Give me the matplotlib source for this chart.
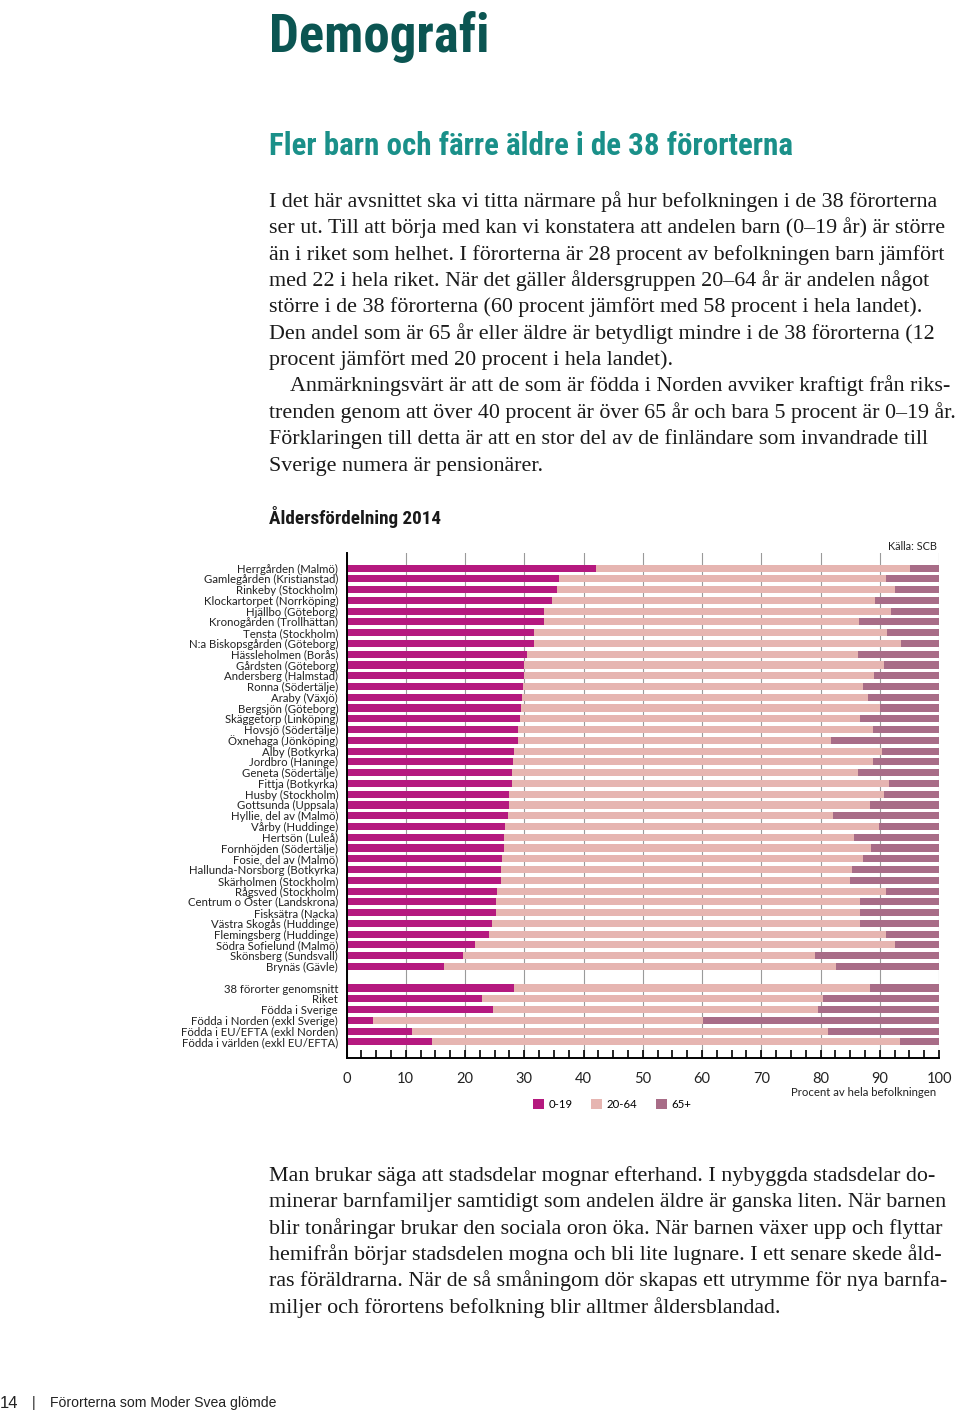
import matplotlib
matplotlib.use('Agg')
import matplotlib.pyplot as plt
from matplotlib import font_manager as fm
from matplotlib.ticker import MultipleLocator

# ---- data ----
places = ['Herrgården (Malmö)', 'Gamlegården (Kristianstad)', 'Rinkeby (Stockholm)',
          'Klockartorpet (Norrköping)', 'Hjällbo (Göteborg)', 'Kronogården (Trollhättan)',
          'Tensta (Stockholm)', 'N:a Biskopsgården (Göteborg)', 'Hässleholmen (Borås)',
          'Gårdsten (Göteborg)', 'Andersberg (Halmstad)', 'Ronna (Södertälje)',
          'Araby (Växjö)', 'Bergsjön (Göteborg)', 'Skäggetorp (Linköping)',
          'Hovsjö (Södertälje)', 'Öxnehaga (Jönköping)', 'Alby (Botkyrka)',
          'Jordbro (Haninge)', 'Geneta (Södertälje)', 'Fittja (Botkyrka)',
          'Husby (Stockholm)', 'Gottsunda (Uppsala)', 'Hyllie, del av (Malmö)',
          'Vårby (Huddinge)', 'Hertsön (Luleå)', 'Fornhöjden (Södertälje)',
          'Fosie, del av (Malmö)', 'Hallunda-Norsborg (Botkyrka)', 'Skärholmen (Stockholm)',
          'Rågsved (Stockholm)', 'Centrum o Öster (Landskrona)', 'Fisksätra (Nacka)',
          'Västra Skogås (Huddinge)', 'Flemingsberg (Huddinge)', 'Södra Sofielund (Malmö)',
          'Skönsberg (Sundsvall)', 'Brynäs (Gävle)']
young = [42.1, 35.8, 35.6, 34.7, 33.4, 33.3, 31.7, 31.7, 30.5, 30.0, 29.9, 29.8,
         29.6, 29.5, 29.3, 28.9, 28.9, 28.2, 28.1, 28.0, 27.9, 27.5, 27.4, 27.2,
         26.7, 26.6, 26.6, 26.2, 26.0, 26.0, 25.4, 25.2, 25.2, 24.5, 24.1, 21.7,
         19.6, 16.5]
mid = [53.0, 55.3, 56.9, 54.5, 58.5, 53.2, 59.5, 61.9, 55.8, 60.7, 59.1, 57.3,
       58.4, 60.5, 57.4, 59.9, 52.8, 62.2, 60.8, 58.3, 63.7, 63.2, 61.0, 54.9,
       63.2, 59.0, 61.9, 60.9, 59.3, 58.9, 65.7, 61.5, 61.5, 62.1, 67.0, 70.8,
       59.4, 66.1]
old = [4.9, 8.9, 7.5, 10.8, 8.1, 13.5, 8.8, 6.4, 13.7, 9.3, 11.0, 12.9,
       12.0, 10.0, 13.3, 11.2, 18.3, 9.6, 11.1, 13.7, 8.4, 9.3, 11.6, 17.9,
       10.1, 14.4, 11.5, 12.9, 14.7, 15.1, 8.9, 13.3, 13.3, 13.4, 8.9, 7.5,
       21.0, 17.4]

groups = ['38 förorter genomsnitt', 'Riket', 'Födda i Sverige',
          'Födda i Norden (exkl Sverige)', 'Födda i EU/EFTA (exkl Norden)',
          'Födda i världen (exkl EU/EFTA)']
g_young = [28.2, 22.8, 24.8, 4.5, 11.1, 14.4]
g_mid = [60.1, 57.7, 54.8, 55.7, 70.1, 79.0]
g_old = [11.7, 19.5, 20.4, 39.8, 18.8, 6.6]

age_labels = ['0-19', '20-64', '65+']
colors = ['#b5197f', '#e6b5b1', '#a86c87']

body1 = [
    "I det här avsnittet ska vi titta närmare på hur befolkningen i de 38 förorterna",
    "ser ut. Till att börja med kan vi konstatera att andelen barn (0–19 år) är större",
    "än i riket som helhet. I förorterna är 28 procent av befolkningen barn jämfört",
    "med 22 i hela riket. När det gäller åldersgruppen 20–64 år är andelen något",
    "större i de 38 förorterna (60 procent jämfört med 58 procent i hela landet).",
    "Den andel som är 65 år eller äldre är betydligt mindre i de 38 förorterna (12",
    "procent jämfört med 20 procent i hela landet).",
    "Anmärkningsvärt är att de som är födda i Norden avviker kraftigt från riks-",
    "trenden genom att över 40 procent är över 65 år och bara 5 procent är 0–19 år.",
    "Förklaringen till detta är att en stor del av de finländare som invandrade till",
    "Sverige numera är pensionärer.",
]
body2 = [
    "Man brukar säga att stadsdelar mognar efterhand. I nybyggda stadsdelar do-",
    "minerar barnfamiljer samtidigt som andelen äldre är ganska liten. När barnen",
    "blir tonåringar brukar den sociala oron öka. När barnen växer upp och flyttar",
    "hemifrån börjar stadsdelen mogna och bli lite lugnare. I ett senare skede åld-",
    "ras föräldrarna. När de så småningom dör skapas ett utrymme för nya barnfa-",
    "miljer och förortens befolkning blir alltmer åldersblandad.",
]


def pick(*names):
    for n in names:
        try:
            fm.findfont(fm.FontProperties(family=n), fallback_to_default=False)
            return n
        except ValueError:
            pass
    return 'DejaVu Sans'


narrow = pick('Liberation Sans Narrow', 'Roboto Condensed', 'DejaVu Sans')
serif = pick('Liberation Serif', 'DejaVu Serif')
sans = pick('Lato', 'Open Sans', 'DejaVu Sans')
arial = pick('Liberation Sans', 'DejaVu Sans')

W, H = 960, 1412
fig = plt.figure(figsize=(W / 100, H / 100), dpi=100)
renderer = fig.canvas.get_renderer()


def px(x, y):
    return x / W, 1 - y / H


def fit(t, width):
    # scale font size so the text is about `width` pixels wide
    w = t.get_window_extent(renderer).width
    t.set_fontsize(t.get_fontsize() * width / w)
    return t


# ---- headers ----
t = fig.text(*px(269, 52), 'Demografi', family=narrow, weight='bold', fontstretch='condensed',
             fontsize=40, color='#0b5552', va='baseline')
fit(t, 220)
t = fig.text(*px(269, 155), 'Fler barn och färre äldre i de 38 förorterna', family=narrow,
             weight='bold', fontstretch='condensed', fontsize=22, color='#1a9089', va='baseline')
fit(t, 523)

# ---- body text ----
probe = fig.text(0, 0, body1[1], family=serif, fontsize=14)
fit(probe, 680)
body_size = probe.get_fontsize()
probe.remove()

for i, line in enumerate(body1):
    x = 290 if i == 7 else 269
    fig.text(*px(x, 207 + i * 26.35), line, family=serif, fontsize=body_size,
             color='#1a1a1a', va='baseline')
for i, line in enumerate(body2):
    fig.text(*px(269, 1181 + i * 26.3), line, family=serif, fontsize=body_size,
             color='#1a1a1a', va='baseline')

t = fig.text(*px(269, 524), 'Åldersfördelning 2014', family=narrow, weight='bold',
             fontstretch='condensed', fontsize=14, color='#1a1a1a', va='baseline')
fit(t, 173)

# ---- chart ----
ax = fig.add_axes([346.5 / W, 1 - 1058 / H, (939 - 346.5) / W, (1058 - 553) / H])

pos = list(range(len(places))) + list(range(len(places) + 1, len(places) + 1 + len(groups)))
v_young = young + g_young
v_mid = mid + g_mid
v_old = old + g_old

left = [0] * len(pos)
for vals, c, lab in zip([v_young, v_mid, v_old], colors, age_labels):
    ax.barh(pos, vals, left=left, height=0.66, color=c, label=lab, linewidth=0)
    left = [a + b for a, b in zip(left, vals)]

ax.set_xlim(0, 100)
ax.set_ylim(max(pos) + 1.5, -1.4)
ax.set_yticks(pos)
ax.set_yticklabels(places + groups, family=sans, fontsize=8.2, color='#222222')
ax.tick_params(axis='y', length=0, pad=6)

ax.xaxis.set_major_locator(MultipleLocator(10))
ax.xaxis.set_minor_locator(MultipleLocator(2.5))
ax.tick_params(axis='x', which='both', direction='in', length=6, width=1.2,
               color='black', pad=10, labelsize=10.5, labelcolor='#222222')
for lab in ax.get_xticklabels():
    lab.set_family(sans)

ax.set_axisbelow(True)
ax.xaxis.grid(True, color='#9a9a9a', linewidth=0.8)
for s in ['top', 'right']:
    ax.spines[s].set_visible(False)
for s in ['left', 'bottom']:
    ax.spines[s].set_linewidth(1.4)

fig.text(*px(937, 547), 'Källa: SCB', family=sans, fontsize=7.8, color='#222222',
         ha='right', va='center')
fig.text(*px(936, 1093), 'Procent av hela befolkningen', family=sans, fontsize=8.2,
         color='#222222', ha='right', va='center')

fig.legend(*ax.get_legend_handles_labels(), loc='center', bbox_to_anchor=px(612, 1104),
           ncol=3, frameon=False, handlelength=1.0, handleheight=1.0, handletextpad=0.4,
           columnspacing=1.6, prop={'family': sans, 'size': 8.2})

# ---- footer ----
fig.text(*px(0, 1403), '14', family=arial, fontsize=12, color='#222222', va='center')
fig.text(*px(32, 1403), '|', family=arial, fontsize=10, color='#222222', va='center')
t = fig.text(*px(50, 1403), 'Förorterna som Moder Svea glömde', family=arial, fontsize=10.5,
             color='#222222', va='center')
fit(t, 226)

fig.savefig('out.png', dpi=100)
